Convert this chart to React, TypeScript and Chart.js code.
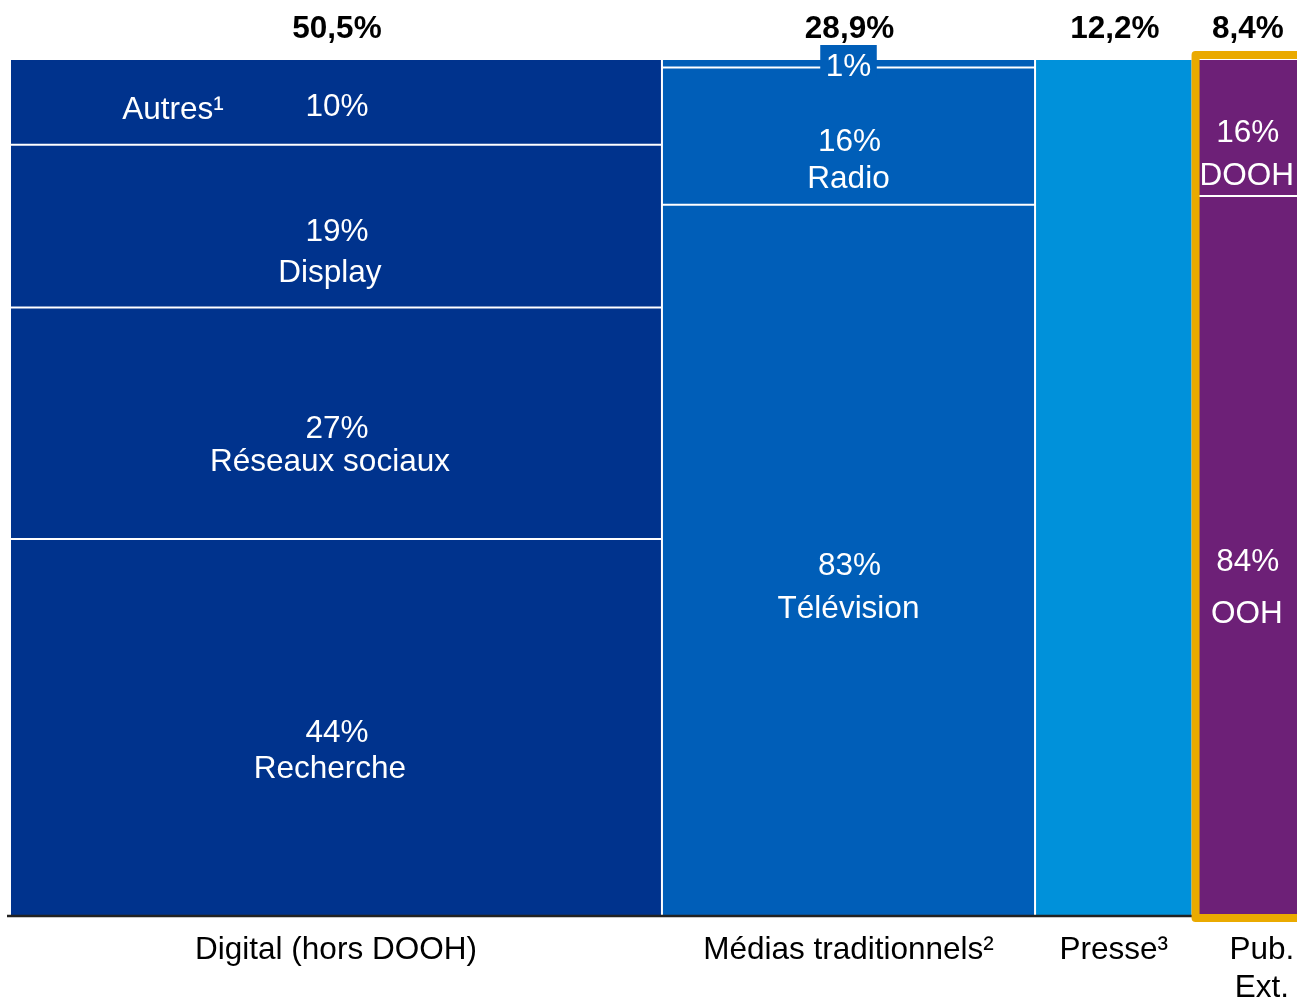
import React, { useEffect, useRef } from 'react';
import { Chart, registerables } from 'chart.js';

Chart.register(...registerables);

// ---------- DATA ----------
const categories = ['Digital (hors DOOH)', 'Médias traditionnels²', 'Presse³', 'Pub.\nExt.'];
const categoryShares = [50.5, 28.9, 12.2, 8.4];
const shareLabels = ['50,5%', '28,9%', '12,2%', '8,4%'];

const digitalSegments = ['Recherche', 'Réseaux sociaux', 'Display', 'Autres¹'];
const digitalValues = [44, 27, 19, 10];
const traditionalSegments = ['Télévision', 'Radio', ''];
const traditionalValues = [83, 16, 1];
const presseSegments = [''];
const presseValues = [100];
const outdoorSegments = ['OOH', 'DOOH'];
const outdoorValues = [84, 16];

const segmentNames = [digitalSegments, traditionalSegments, presseSegments, outdoorSegments];
const segmentValues = [digitalValues, traditionalValues, presseValues, outdoorValues];

// ---------- STYLE ----------
const columnColors = ['#00338D', '#005EB8', '#0091DA', '#6D2077'];
const highlightColor = '#EAAA00';
const highlightIndex = 3;
const FONT = "'Liberation Sans', Arial, Helvetica, sans-serif";
const CANVAS_W = 1301;
const CANVAS_H = 997;
const PAD = { left: 10, right: 0, top: 59, bottom: 81 };
const nameOffsets: Record<string, number> = {
  Recherche: 36,
  'Réseaux sociaux': 33.5,
  Display: 41.5,
  Télévision: 43.5,
  Radio: 37.5,
  DOOH: 43,
  OOH: 52,
};
const nameDx = [-6, 0, 0, 0];
const categoryDx = [0, 0, 0, 15];

const lefts: number[] = [];
{
  let acc = 0;
  categoryShares.forEach((s) => {
    lefts.push(acc);
    acc += s;
  });
}
const totalShare = categoryShares.reduce((a, b) => a + b, 0);

const overlayPlugin = {
  id: 'mekkoOverlay',
  afterDatasetsDraw(chart: any) {
    const { ctx } = chart;
    const x = chart.scales.x;
    const y = chart.scales.y;
    const bottom = y.getPixelForValue(0);
    const top = y.getPixelForValue(100);
    const hlLeft = x.getPixelForValue(lefts[highlightIndex]);
    const hlRight = x.getPixelForValue(lefts[highlightIndex] + categoryShares[highlightIndex]);

    ctx.save();
    // baseline axis
    ctx.strokeStyle = '#222222';
    ctx.lineWidth = 2.5;
    ctx.beginPath();
    ctx.moveTo(x.left - 3, bottom);
    ctx.lineTo(hlLeft, bottom);
    ctx.stroke();

    // highlight frame
    ctx.strokeStyle = highlightColor;
    ctx.lineWidth = 8;
    ctx.lineJoin = 'round';
    ctx.strokeRect(hlLeft + 3, top - 4, hlRight - hlLeft + 20, bottom + 2 - (top - 4));

    // segment labels
    ctx.fillStyle = '#FFFFFF';
    ctx.textAlign = 'center';
    ctx.textBaseline = 'alphabetic';
    ctx.font = `31.5px ${FONT}`;
    segmentValues.forEach((vals, ci) => {
      const colLeft = x.getPixelForValue(lefts[ci]);
      const colRight = x.getPixelForValue(lefts[ci] + categoryShares[ci]);
      const cx = (colLeft + colRight) / 2;
      let base = 0;
      vals.forEach((v, si) => {
        const name = segmentNames[ci][si];
        const y0 = y.getPixelForValue(base);
        const y1 = y.getPixelForValue(base + v);
        base += v;
        const cy = (y0 + y1) / 2;
        const pct = `${v}%`;
        if (!name) {
          if (v >= 5) return;
          // tiny segment: boxed label on top
          const w = ctx.measureText(pct).width + 11;
          ctx.fillStyle = columnColors[ci];
          ctx.fillRect(cx - w / 2, y1 - 14, w, 32);
          ctx.fillStyle = '#FFFFFF';
          ctx.fillText(pct, cx, y1 + 17);
          return;
        }
        const pctBase = cy + 14.5;
        if (y0 - y1 < 100) {
          ctx.fillText(pct, cx + 1, pctBase);
          ctx.fillText(name, colLeft + (colRight - colLeft) * 0.25, pctBase + 2.5);
        } else {
          ctx.fillText(pct, cx + 1, pctBase);
          ctx.fillText(name, cx + nameDx[ci], pctBase + (nameOffsets[name] ?? 40));
        }
      });
    });

    // column totals (top)
    ctx.fillStyle = '#000000';
    ctx.font = `bold 31.5px ${FONT}`;
    shareLabels.forEach((lbl, ci) => {
      const cx = x.getPixelForValue(lefts[ci] + categoryShares[ci] / 2);
      ctx.fillText(lbl, cx + 1, 38);
    });

    // category labels (bottom)
    ctx.font = `31.5px ${FONT}`;
    categories.forEach((lbl, ci) => {
      const cx = x.getPixelForValue(lefts[ci] + categoryShares[ci] / 2) + categoryDx[ci];
      lbl.split('\n').forEach((line, li) => {
        ctx.fillText(line, cx, 959 + li * 38);
      });
    });
    ctx.restore();
  },
};

export default function App() {
  const ref = useRef<HTMLCanvasElement>(null);

  useEffect(() => {
    const canvas = ref.current;
    if (!canvas) return;

    const datasets = segmentValues.map((vals, ci) => {
      let base = 0;
      const data = vals.map((v) => {
        const d = { x: lefts[ci] + categoryShares[ci] / 2, y: [base, base + v] };
        base += v;
        return d;
      });
      return {
        label: categories[ci],
        data,
        backgroundColor: columnColors[ci],
        borderColor: '#FFFFFF',
        borderWidth: 1,
        borderSkipped: false,
        inflateAmount: 0,
        grouped: false,
        barThickness: (ctx: any) => {
          const xs = ctx?.chart?.scales?.x;
          const fallback = (categoryShares[ci] / totalShare) * (CANVAS_W - PAD.left - PAD.right);
          if (!xs || !isFinite(xs.getPixelForValue(0))) return fallback;
          const w = xs.getPixelForValue(categoryShares[ci]) - xs.getPixelForValue(0);
          return isFinite(w) && w > 0 ? w : fallback;
        },
      };
    });

    const chart = new Chart(canvas, {
      type: 'bar',
      data: { datasets: datasets as any },
      options: {
        responsive: false,
        maintainAspectRatio: false,
        devicePixelRatio: 1,
        animation: false,
        layout: { padding: PAD },
        plugins: { legend: { display: false }, tooltip: { enabled: false } },
        scales: {
          x: { type: 'linear', min: 0, max: totalShare, offset: false, display: false },
          y: { type: 'linear', min: 0, max: 100, display: false },
        },
      },
      plugins: [overlayPlugin],
    });
    return () => chart.destroy();
  }, []);

  return (
    <div
      style={{
        position: 'fixed',
        left: 0,
        top: 0,
        width: 1297,
        height: 997,
        overflow: 'hidden',
        background: '#FFFFFF',
      }}
    >
      <canvas ref={ref} width={CANVAS_W} height={CANVAS_H} style={{ display: 'block' }} />
    </div>
  );
}
